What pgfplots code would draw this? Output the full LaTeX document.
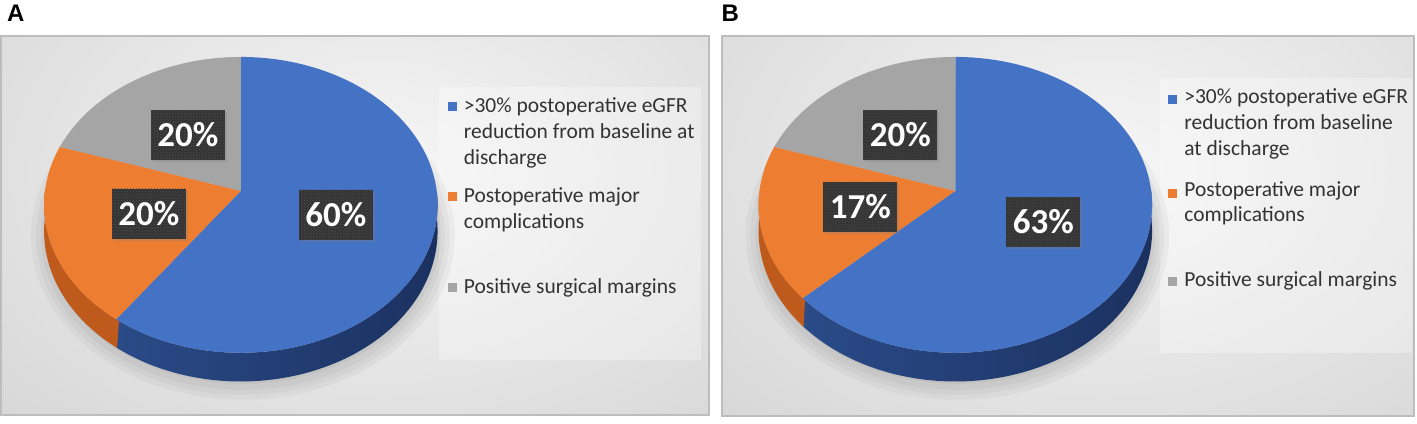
\documentclass[border=0pt]{standalone}
\usepackage{pgfplots}
\pgfplotsset{compat=1.18}
\usepackage{fontspec}
\setmainfont{Carlito}
\newfontfamily\panelfont{Liberation Sans}
\usetikzlibrary{shadows,patterns}

\definecolor{pblue}{HTML}{4472C4}
\definecolor{pblueSa}{HTML}{2A4B88}
\definecolor{pblueSb}{HTML}{1B3160}
\definecolor{porange}{HTML}{ED7D31}
\definecolor{porangeS}{HTML}{BE5A1C}
\definecolor{pgray}{HTML}{A5A5A5}
\definecolor{lblbox}{HTML}{333333}
\definecolor{lbldot}{HTML}{555555}
\definecolor{bgedge}{HTML}{C9C9C9}
\definecolor{bgcenter}{HTML}{F6F6F6}
\definecolor{frameC}{HTML}{BDBDBD}
\definecolor{lgdtext}{HTML}{333333}

% ---- data (percent) ----
\def\Ablue{60}\def\Aorange{20}\def\Agray{20}
\def\Bblue{63}\def\Borange{17}\def\Bgray{20}
\pgfmathsetmacro\AbE{90-3.6*\Ablue}
\pgfmathsetmacro\AoE{\AbE-3.6*\Aorange}
\pgfmathsetmacro\AgE{\AoE-3.6*\Agray}
\pgfmathsetmacro\BbE{90-3.6*\Bblue}
\pgfmathsetmacro\BoE{\BbE-3.6*\Borange}
\pgfmathsetmacro\BgE{\BoE-3.6*\Bgray}
\pgfmathsetmacro\AbEo{\AbE+1}
\pgfmathsetmacro\BbEo{\BbE+1}

% perspective pie geometry (pixels)
\def\RA{196}\def\RB{146.7}\def\ee{0.0946}\def\cy{191}\def\HH{26}

\newcommand\pietop[4]{\addplot[#4, draw=none, domain=#2:#3, samples=120, forget plot]
  ({#1+\RA*cos(x)/(1+\ee*sin(x))},{\cy-\RB*sin(x)/(1+\ee*sin(x))}) -- (axis cs:#1,\cy) -- cycle;}
\newcommand\pieside[4]{\addplot[#4, draw=none, domain=0:2, samples=161, forget plot]
  ({#1+\RA*cos(ifthenelse(x<=1,(#2)+((#3)-(#2))*x,(#3)-((#3)-(#2))*(x-1)))/(1+\ee*sin(ifthenelse(x<=1,(#2)+((#3)-(#2))*x,(#3)-((#3)-(#2))*(x-1))))},
   {\cy+(-\RB*sin(ifthenelse(x<=1,(#2)+((#3)-(#2))*x,(#3)-((#3)-(#2))*(x-1)))+ifthenelse(x>1,\HH,0))/(1+\ee*sin(ifthenelse(x<=1,(#2)+((#3)-(#2))*x,(#3)-((#3)-(#2))*(x-1))))}) -- cycle;}

\tikzset{
  lbl/.style={fill=lblbox, text=white, font=\bfseries\fontsize{35}{35}\selectfont,
    minimum width=74pt, minimum height=50pt, inner sep=0pt,
    drop shadow={opacity=0.3, shadow xshift=2pt, shadow yshift=-2pt},
    postaction={pattern=crosshatch dots, pattern color=lbldot}},
  lgd/.style={anchor=base west, inner sep=0pt, text=lgdtext, font=\fontsize{21.5}{26}\selectfont}
}

\begin{document}
\begin{tikzpicture}
\begin{axis}[width=1417pt, height=424pt, scale only axis,
  xmin=0, xmax=1417, ymin=0, ymax=424, y dir=reverse,
  hide axis, clip=false]

% page
\fill[white] (axis cs:0,0) rectangle (axis cs:1417,424);

% panel backgrounds
\begin{scope}
\clip (axis cs:0,36) rectangle (axis cs:708,415);
\fill[bgedge] (axis cs:0,36) rectangle (axis cs:708,415);
\shade[inner color=bgcenter, outer color=bgedge] (axis cs:380,170) ellipse [x radius=780, y radius=520];
\end{scope}
\draw[frameC, line width=2pt] (axis cs:0,36) rectangle (axis cs:708,415);

\begin{scope}
\clip (axis cs:721,36) rectangle (axis cs:1414,416);
\fill[bgedge] (axis cs:721,36) rectangle (axis cs:1414,416);
\shade[inner color=bgcenter, outer color=bgedge] (axis cs:1101,170) ellipse [x radius=780, y radius=520];
\end{scope}
\draw[frameC, line width=2pt] (axis cs:721,36) rectangle (axis cs:1414,416);

% legend backgrounds
\fill[white, opacity=0.3] (axis cs:438,87) rectangle (axis cs:700,360);
\fill[white, opacity=0.3] (axis cs:1160,78) rectangle (axis cs:1412,353);

% panel letters
\node[anchor=base west, inner sep=0pt, font=\panelfont\bfseries\fontsize{24}{24}\selectfont] at (axis cs:6,22) {A};
\node[anchor=base west, inner sep=0pt, font=\panelfont\bfseries\fontsize{24}{24}\selectfont] at (axis cs:721,22) {B};

% pie shadows
\fill[black, opacity=0.035] (axis cs:242,236) ellipse [x radius=212, y radius=164];
\fill[black, opacity=0.035] (axis cs:242,236) ellipse [x radius=207, y radius=159];
\fill[black, opacity=0.035] (axis cs:242,236) ellipse [x radius=202, y radius=154];
\fill[black, opacity=0.04] (axis cs:242,234) ellipse [x radius=198, y radius=150];
\fill[black, opacity=0.035] (axis cs:957,236) ellipse [x radius=212, y radius=164];
\fill[black, opacity=0.035] (axis cs:957,236) ellipse [x radius=207, y radius=159];
\fill[black, opacity=0.035] (axis cs:957,236) ellipse [x radius=202, y radius=154];
\fill[black, opacity=0.04] (axis cs:957,234) ellipse [x radius=198, y radius=150];

% ---- Panel A pie ----
\pieside{240}{\AbE}{0}{left color=pblueSa, right color=pblueSb}
\pieside{240}{-180}{\AbEo}{fill=porangeS}
\pietop{240}{\AbE}{90}{fill=pblue}
\pietop{240}{\AoE}{\AbE}{fill=porange}
\pietop{240}{\AgE}{\AoE}{fill=pgray}

% ---- Panel B pie ----
\pieside{955}{\BbE}{0}{left color=pblueSa, right color=pblueSb}
\pieside{955}{-180}{\BbEo}{fill=porangeS}
\pietop{955}{\BbE}{90}{fill=pblue}
\pietop{955}{\BoE}{\BbE}{fill=porange}
\pietop{955}{\BgE}{\BoE}{fill=pgray}

% data labels
\node[lbl] at (axis cs:187,135) {20\%};
\node[lbl] at (axis cs:148,214) {20\%};
\node[lbl] at (axis cs:335,215) {60\%};
\node[lbl] at (axis cs:900,135) {20\%};
\node[lbl] at (axis cs:860,207) {17\%};
\node[lbl] at (axis cs:1043,222) {63\%};

% legend A
\fill[pblue] (axis cs:447,102) rectangle (axis cs:456,111);
\fill[porange] (axis cs:447,192) rectangle (axis cs:456,201);
\fill[pgray] (axis cs:447,283) rectangle (axis cs:456,292);
\node[lgd] at (axis cs:463,113) {>30\% postoperative eGFR};
\node[lgd] at (axis cs:463,139) {reduction from baseline at};
\node[lgd] at (axis cs:463,165) {discharge};
\node[lgd] at (axis cs:463,203) {Postoperative major};
\node[lgd] at (axis cs:463,229) {complications};
\node[lgd] at (axis cs:463,294) {Positive surgical margins};

% legend B
\fill[pblue] (axis cs:1168,95) rectangle (axis cs:1177,104);
\fill[porange] (axis cs:1168,189) rectangle (axis cs:1177,198);
\fill[pgray] (axis cs:1168,277) rectangle (axis cs:1177,286);
\node[lgd] at (axis cs:1184,104) {>30\% postoperative eGFR};
\node[lgd] at (axis cs:1184,130) {reduction from baseline};
\node[lgd] at (axis cs:1184,156) {at discharge};
\node[lgd] at (axis cs:1184,197) {Postoperative major};
\node[lgd] at (axis cs:1184,222) {complications};
\node[lgd] at (axis cs:1184,287) {Positive surgical margins};

\end{axis}
\end{tikzpicture}
\end{document}
